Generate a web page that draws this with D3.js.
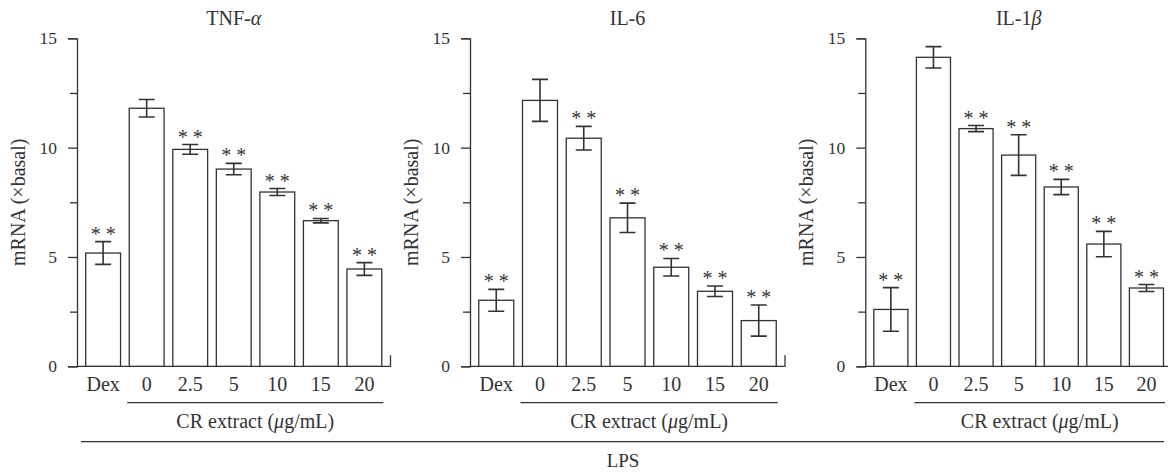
<!DOCTYPE html>
<html>
<head>
<meta charset="utf-8">
<script src="https://cdn.jsdelivr.net/npm/d3@7"></script>
<style>
  body { margin: 0; background: #fff; }
  svg text { font-family: "Liberation Serif", "Times New Roman", serif; fill: #333; }
</style>
</head>
<body>
<svg id="chart" width="1168" height="472"></svg>
<script>
// data
const categories = ["Dex", "0", "2.5", "5", "10", "15", "20"];
const stars = ["**", "", "**", "**", "**", "**", "**"];

const tnfMean = [5.18, 11.8, 9.92, 9.02, 7.97, 6.66, 4.45];
const tnfErr = [0.52, 0.4, 0.22, 0.26, 0.16, 0.1, 0.29];

const il6Mean = [3.02, 12.16, 10.43, 6.79, 4.53, 3.43, 2.09];
const il6Err = [0.5, 0.96, 0.54, 0.67, 0.4, 0.24, 0.71];

const il1bMean = [2.6, 14.13, 10.87, 9.66, 8.2, 5.59, 3.58];
const il1bErr = [1.0, 0.49, 0.14, 0.93, 0.35, 0.58, 0.16];

const yTicks = [0, 2.5, 5, 7.5, 10, 12.5, 15];

// panels
const panels = [
  { title: ["TNF-", "α"], mean: tnfMean, err: tnfErr, x0: 77, x1: 390.5 },
  { title: ["IL-6", ""], mean: il6Mean, err: il6Err, x0: 470, x1: 785 },
  { title: ["IL-1", "β"], mean: il1bMean, err: il1bErr, x0: 865.3, x1: 1172 },
];

const ink = "#333";
const yTop = 38.3;
const yBottom = 366.3;

const svg = d3.select("#chart");

const y = d3.scaleLinear().domain([0, 15]).range([yBottom, yTop]);

panels.forEach((p) => {
  const g = svg.append("g");

  const x = d3
    .scaleBand()
    .domain(categories)
    .range([p.x0, p.x1])
    .paddingInner(0.2)
    .paddingOuter(0.2);

  const rows = categories.map((c, i) => ({
    cat: c,
    mean: p.mean[i],
    err: p.err[i],
    star: stars[i],
  }));

  // y axis
  const yAxis = d3
    .axisLeft(y)
    .tickValues(yTicks)
    .tickSizeOuter(0)
    .tickSize(9)
    .tickPadding(11)
    .tickFormat((d) => (d % 5 === 0 ? d : ""));

  const ya = g
    .append("g")
    .attr("transform", `translate(${p.x0},0)`)
    .call(yAxis);
  ya.select(".domain").attr("stroke", ink).attr("stroke-width", 1.3);
  ya.selectAll(".tick line")
    .attr("stroke", ink)
    .attr("stroke-width", 1.3)
    .attr("x2", (d) => (d % 5 === 0 ? -9 : -7));
  ya.selectAll(".tick text")
    .style("font-size", "17.5px")
    .attr("fill", ink);

  // baseline with end tick
  g.append("path")
    .attr("d", `M${p.x0},${yBottom}H${p.x1}V${yBottom - 11}`)
    .attr("fill", "none")
    .attr("stroke", ink)
    .attr("stroke-width", 1.3);

  // bars
  g.selectAll("rect.bar")
    .data(rows)
    .enter()
    .append("rect")
    .attr("class", "bar")
    .attr("x", (d) => x(d.cat))
    .attr("y", (d) => y(d.mean))
    .attr("width", x.bandwidth())
    .attr("height", (d) => y(0) - y(d.mean))
    .attr("fill", "#fff")
    .attr("stroke", ink)
    .attr("stroke-width", 1.3);

  // error bars
  const cap = 8;
  const eb = g
    .selectAll("g.err")
    .data(rows)
    .enter()
    .append("g")
    .attr("class", "err")
    .attr("transform", (d) => `translate(${x(d.cat) + x.bandwidth() / 2},0)`);
  eb.append("path")
    .attr(
      "d",
      (d) =>
        `M${-cap},${y(d.mean + d.err)}H${cap}M0,${y(d.mean + d.err)}V${y(
          d.mean - d.err
        )}M${-cap},${y(d.mean - d.err)}H${cap}`
    )
    .attr("fill", "none")
    .attr("stroke", ink)
    .attr("stroke-width", 1.6);

  eb.append("text")
    .attr("y", (d) => y(d.mean + d.err) - 1)
    .attr("text-anchor", "middle")
    .style("font-size", "20px")
    .attr("fill", "#555")
    .text((d) => (d.star ? "* *" : ""));

  // category labels
  g.selectAll("text.cat")
    .data(categories)
    .enter()
    .append("text")
    .attr("class", "cat")
    .attr("x", (d) => x(d) + x.bandwidth() / 2)
    .attr("y", 391)
    .attr("text-anchor", "middle")
    .style("font-size", "20px")
    .text((d) => d);

  // CR extract bracket
  const cx0 = x("0") - 2;
  const cx1 = x("20") + x.bandwidth() + 1.5;
  g.append("line")
    .attr("x1", cx0)
    .attr("x2", cx1)
    .attr("y1", 402.7)
    .attr("y2", 402.7)
    .attr("stroke", ink)
    .attr("stroke-width", 1.3);
  const crText = g
    .append("text")
    .attr("x", (cx0 + cx1) / 2)
    .attr("y", 428)
    .attr("text-anchor", "middle")
    .style("font-size", "20px");
  crText.append("tspan").text("CR extract (");
  crText.append("tspan").style("font-style", "italic").text("μ");
  crText.append("tspan").text("g/mL)");

  // title
  const t = g
    .append("text")
    .attr("x", (p.x0 + p.x1) / 2)
    .attr("y", 25)
    .attr("text-anchor", "middle")
    .style("font-size", "20px");
  t.append("tspan").text(p.title[0]);
  t.append("tspan").style("font-style", "italic").text(p.title[1]);

  // y axis title
  g.append("text")
    .attr(
      "transform",
      `translate(${p.x0 - 52},${(yTop + yBottom) / 2}) rotate(-90)`
    )
    .attr("text-anchor", "middle")
    .style("font-size", "20px")
    .text("mRNA (×basal)");
});

// LPS line
svg
  .append("line")
  .attr("x1", 81)
  .attr("x2", 1164)
  .attr("y1", 441.7)
  .attr("y2", 441.7)
  .attr("stroke", ink)
  .attr("stroke-width", 1.3);
svg
  .append("text")
  .attr("x", 623)
  .attr("y", 467)
  .attr("text-anchor", "middle")
  .style("font-size", "19px")
  .text("LPS");
</script>
</body>
</html>
